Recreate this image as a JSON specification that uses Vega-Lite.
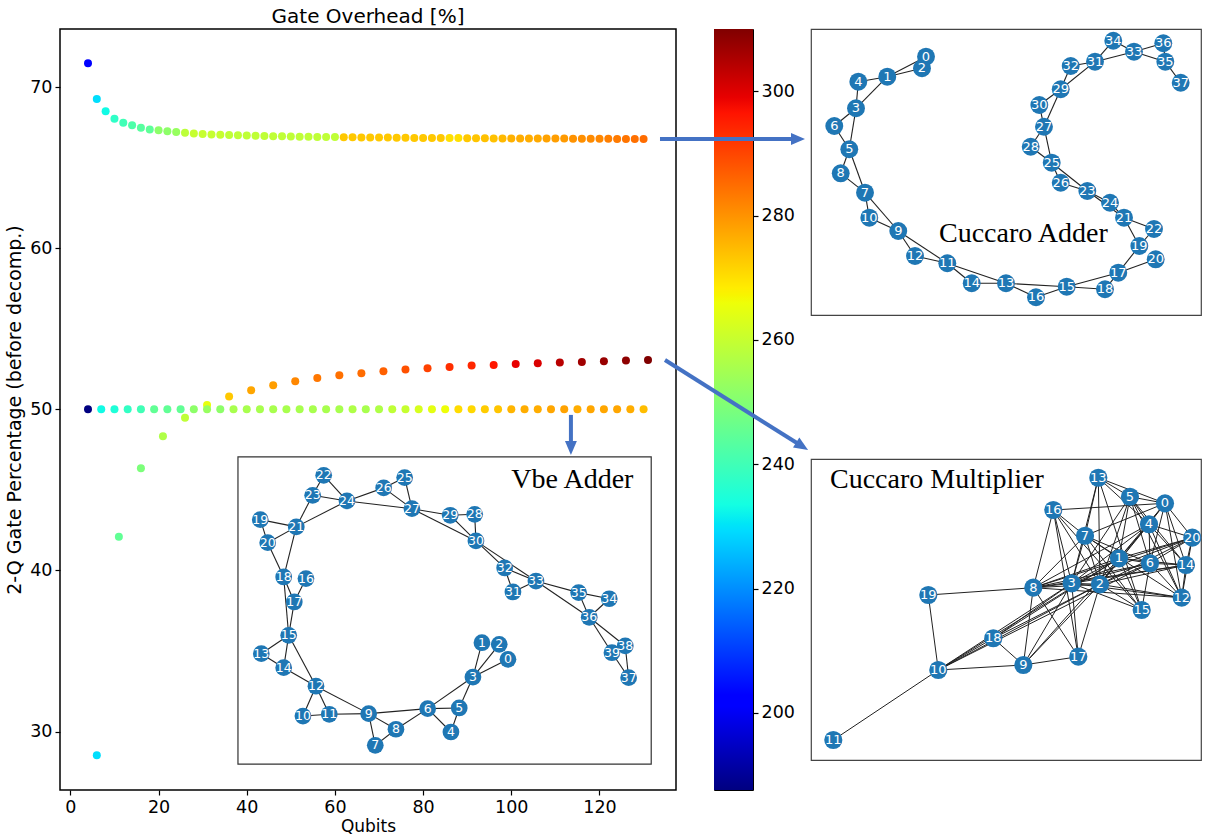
{
  "$schema": "https://vega.github.io/schema/vega-lite/v6.json",
  "padding": {"left": 4, "top": 6, "right": 5, "bottom": 2},
  "config": {
    "font": "DejaVu Sans",
    "view": {"stroke": null},
    "axis": {"domain": false, "grid": false, "ticks": true, "tickSize": 5, "tickWidth": 1.2, "tickColor": "black", "labelColor": "black", "labelFont": "DejaVu Sans", "labelFontSize": 17.5, "labelPadding": 3, "titleFont": "DejaVu Sans", "titleFontWeight": "normal", "titleColor": "black", "labelFlush": false, "labelOverlap": false}
  },
  "datasets": {
    "points": [
      {"series":"Cuccaro Adder","qubits":4,"pct":71.47,"overhead":201.5},
      {"series":"Cuccaro Adder","qubits":6,"pct":69.25,"overhead":229.5},
      {"series":"Cuccaro Adder","qubits":8,"pct":68.49,"overhead":233},
      {"series":"Cuccaro Adder","qubits":10,"pct":68.03,"overhead":237.5},
      {"series":"Cuccaro Adder","qubits":12,"pct":67.78,"overhead":240},
      {"series":"Cuccaro Adder","qubits":14,"pct":67.62,"overhead":242},
      {"series":"Cuccaro Adder","qubits":16,"pct":67.47,"overhead":243.5},
      {"series":"Cuccaro Adder","qubits":18,"pct":67.37,"overhead":244.5},
      {"series":"Cuccaro Adder","qubits":20,"pct":67.31,"overhead":251.5},
      {"series":"Cuccaro Adder","qubits":22,"pct":67.26,"overhead":251.5},
      {"series":"Cuccaro Adder","qubits":24,"pct":67.21,"overhead":253},
      {"series":"Cuccaro Adder","qubits":26,"pct":67.16,"overhead":258.5},
      {"series":"Cuccaro Adder","qubits":28,"pct":67.12,"overhead":260},
      {"series":"Cuccaro Adder","qubits":30,"pct":67.09,"overhead":260},
      {"series":"Cuccaro Adder","qubits":32,"pct":67.06,"overhead":260},
      {"series":"Cuccaro Adder","qubits":34,"pct":67.04,"overhead":260},
      {"series":"Cuccaro Adder","qubits":36,"pct":67.02,"overhead":259},
      {"series":"Cuccaro Adder","qubits":38,"pct":67.0,"overhead":259},
      {"series":"Cuccaro Adder","qubits":40,"pct":66.99,"overhead":259},
      {"series":"Cuccaro Adder","qubits":42,"pct":66.97,"overhead":259},
      {"series":"Cuccaro Adder","qubits":44,"pct":66.96,"overhead":259},
      {"series":"Cuccaro Adder","qubits":46,"pct":66.95,"overhead":259},
      {"series":"Cuccaro Adder","qubits":48,"pct":66.94,"overhead":259},
      {"series":"Cuccaro Adder","qubits":50,"pct":66.93,"overhead":259},
      {"series":"Cuccaro Adder","qubits":52,"pct":66.92,"overhead":259},
      {"series":"Cuccaro Adder","qubits":54,"pct":66.91,"overhead":259},
      {"series":"Cuccaro Adder","qubits":56,"pct":66.9,"overhead":259},
      {"series":"Cuccaro Adder","qubits":58,"pct":66.9,"overhead":259},
      {"series":"Cuccaro Adder","qubits":60,"pct":66.89,"overhead":259},
      {"series":"Cuccaro Adder","qubits":62,"pct":66.88,"overhead":273},
      {"series":"Cuccaro Adder","qubits":64,"pct":66.88,"overhead":273},
      {"series":"Cuccaro Adder","qubits":66,"pct":66.87,"overhead":273},
      {"series":"Cuccaro Adder","qubits":68,"pct":66.87,"overhead":273},
      {"series":"Cuccaro Adder","qubits":70,"pct":66.86,"overhead":273},
      {"series":"Cuccaro Adder","qubits":72,"pct":66.86,"overhead":273},
      {"series":"Cuccaro Adder","qubits":74,"pct":66.85,"overhead":273},
      {"series":"Cuccaro Adder","qubits":76,"pct":66.85,"overhead":273},
      {"series":"Cuccaro Adder","qubits":78,"pct":66.84,"overhead":273},
      {"series":"Cuccaro Adder","qubits":80,"pct":66.84,"overhead":273},
      {"series":"Cuccaro Adder","qubits":82,"pct":66.84,"overhead":273},
      {"series":"Cuccaro Adder","qubits":84,"pct":66.83,"overhead":273},
      {"series":"Cuccaro Adder","qubits":86,"pct":66.83,"overhead":270},
      {"series":"Cuccaro Adder","qubits":88,"pct":66.83,"overhead":270},
      {"series":"Cuccaro Adder","qubits":90,"pct":66.82,"overhead":273},
      {"series":"Cuccaro Adder","qubits":92,"pct":66.82,"overhead":273.5},
      {"series":"Cuccaro Adder","qubits":94,"pct":66.82,"overhead":274},
      {"series":"Cuccaro Adder","qubits":96,"pct":66.81,"overhead":274},
      {"series":"Cuccaro Adder","qubits":98,"pct":66.81,"overhead":275},
      {"series":"Cuccaro Adder","qubits":100,"pct":66.81,"overhead":276},
      {"series":"Cuccaro Adder","qubits":102,"pct":66.81,"overhead":276.5},
      {"series":"Cuccaro Adder","qubits":104,"pct":66.8,"overhead":276.5},
      {"series":"Cuccaro Adder","qubits":106,"pct":66.8,"overhead":277},
      {"series":"Cuccaro Adder","qubits":108,"pct":66.8,"overhead":278},
      {"series":"Cuccaro Adder","qubits":110,"pct":66.8,"overhead":278.5},
      {"series":"Cuccaro Adder","qubits":112,"pct":66.8,"overhead":279},
      {"series":"Cuccaro Adder","qubits":114,"pct":66.79,"overhead":280},
      {"series":"Cuccaro Adder","qubits":116,"pct":66.79,"overhead":280.5},
      {"series":"Cuccaro Adder","qubits":118,"pct":66.79,"overhead":281},
      {"series":"Cuccaro Adder","qubits":120,"pct":66.79,"overhead":281.5},
      {"series":"Cuccaro Adder","qubits":122,"pct":66.79,"overhead":282.5},
      {"series":"Cuccaro Adder","qubits":124,"pct":66.78,"overhead":283},
      {"series":"Cuccaro Adder","qubits":126,"pct":66.78,"overhead":284},
      {"series":"Cuccaro Adder","qubits":128,"pct":66.78,"overhead":284.5},
      {"series":"Cuccaro Adder","qubits":130,"pct":66.78,"overhead":285},
      {"series":"Cuccaro Multiplier","qubits":6,"pct":28.53,"overhead":229.5},
      {"series":"Cuccaro Multiplier","qubits":11,"pct":42.09,"overhead":245},
      {"series":"Cuccaro Multiplier","qubits":16,"pct":46.34,"overhead":249},
      {"series":"Cuccaro Multiplier","qubits":21,"pct":48.32,"overhead":256.5},
      {"series":"Cuccaro Multiplier","qubits":26,"pct":49.48,"overhead":259},
      {"series":"Cuccaro Multiplier","qubits":31,"pct":50.27,"overhead":265},
      {"series":"Cuccaro Multiplier","qubits":36,"pct":50.79,"overhead":273},
      {"series":"Cuccaro Multiplier","qubits":41,"pct":51.18,"overhead":277.5},
      {"series":"Cuccaro Multiplier","qubits":46,"pct":51.49,"overhead":278.5},
      {"series":"Cuccaro Multiplier","qubits":51,"pct":51.74,"overhead":281.5},
      {"series":"Cuccaro Multiplier","qubits":56,"pct":51.94,"overhead":283.5},
      {"series":"Cuccaro Multiplier","qubits":61,"pct":52.11,"overhead":284.5},
      {"series":"Cuccaro Multiplier","qubits":66,"pct":52.24,"overhead":285},
      {"series":"Cuccaro Multiplier","qubits":71,"pct":52.36,"overhead":286.5},
      {"series":"Cuccaro Multiplier","qubits":76,"pct":52.47,"overhead":288.5},
      {"series":"Cuccaro Multiplier","qubits":81,"pct":52.55,"overhead":290.5},
      {"series":"Cuccaro Multiplier","qubits":86,"pct":52.63,"overhead":293},
      {"series":"Cuccaro Multiplier","qubits":91,"pct":52.71,"overhead":294},
      {"series":"Cuccaro Multiplier","qubits":96,"pct":52.75,"overhead":296},
      {"series":"Cuccaro Multiplier","qubits":101,"pct":52.81,"overhead":299},
      {"series":"Cuccaro Multiplier","qubits":106,"pct":52.86,"overhead":300.5},
      {"series":"Cuccaro Multiplier","qubits":111,"pct":52.9,"overhead":304},
      {"series":"Cuccaro Multiplier","qubits":116,"pct":52.94,"overhead":306.5},
      {"series":"Cuccaro Multiplier","qubits":121,"pct":52.98,"overhead":307.5},
      {"series":"Cuccaro Multiplier","qubits":126,"pct":53.02,"overhead":308.5},
      {"series":"Cuccaro Multiplier","qubits":131,"pct":53.06,"overhead":310},
      {"series":"Vbe Adder","qubits":4,"pct":50,"overhead":187.6},
      {"series":"Vbe Adder","qubits":7,"pct":50,"overhead":233},
      {"series":"Vbe Adder","qubits":10,"pct":50,"overhead":235},
      {"series":"Vbe Adder","qubits":13,"pct":50,"overhead":238},
      {"series":"Vbe Adder","qubits":16,"pct":50,"overhead":240},
      {"series":"Vbe Adder","qubits":19,"pct":50,"overhead":245},
      {"series":"Vbe Adder","qubits":22,"pct":50,"overhead":245},
      {"series":"Vbe Adder","qubits":25,"pct":50,"overhead":245},
      {"series":"Vbe Adder","qubits":28,"pct":50,"overhead":251.5},
      {"series":"Vbe Adder","qubits":31,"pct":50,"overhead":253},
      {"series":"Vbe Adder","qubits":34,"pct":50,"overhead":251.5},
      {"series":"Vbe Adder","qubits":37,"pct":50,"overhead":255.5},
      {"series":"Vbe Adder","qubits":40,"pct":50,"overhead":255.5},
      {"series":"Vbe Adder","qubits":43,"pct":50,"overhead":255.5},
      {"series":"Vbe Adder","qubits":46,"pct":50,"overhead":255.5},
      {"series":"Vbe Adder","qubits":49,"pct":50,"overhead":255.5},
      {"series":"Vbe Adder","qubits":52,"pct":50,"overhead":255.5},
      {"series":"Vbe Adder","qubits":55,"pct":50,"overhead":255.5},
      {"series":"Vbe Adder","qubits":58,"pct":50,"overhead":255.5},
      {"series":"Vbe Adder","qubits":61,"pct":50,"overhead":255.5},
      {"series":"Vbe Adder","qubits":64,"pct":50,"overhead":256.5},
      {"series":"Vbe Adder","qubits":67,"pct":50,"overhead":255.5},
      {"series":"Vbe Adder","qubits":70,"pct":50,"overhead":256.5},
      {"series":"Vbe Adder","qubits":73,"pct":50,"overhead":259},
      {"series":"Vbe Adder","qubits":76,"pct":50,"overhead":260},
      {"series":"Vbe Adder","qubits":79,"pct":50,"overhead":262.5},
      {"series":"Vbe Adder","qubits":82,"pct":50,"overhead":264.5},
      {"series":"Vbe Adder","qubits":85,"pct":50,"overhead":266},
      {"series":"Vbe Adder","qubits":88,"pct":50,"overhead":270.5},
      {"series":"Vbe Adder","qubits":91,"pct":50,"overhead":271},
      {"series":"Vbe Adder","qubits":94,"pct":50,"overhead":272.5},
      {"series":"Vbe Adder","qubits":97,"pct":50,"overhead":273.5},
      {"series":"Vbe Adder","qubits":100,"pct":50,"overhead":275.5},
      {"series":"Vbe Adder","qubits":103,"pct":50,"overhead":276.5},
      {"series":"Vbe Adder","qubits":106,"pct":50,"overhead":276.5},
      {"series":"Vbe Adder","qubits":109,"pct":50,"overhead":277.5},
      {"series":"Vbe Adder","qubits":112,"pct":50,"overhead":278},
      {"series":"Vbe Adder","qubits":115,"pct":50,"overhead":276.5},
      {"series":"Vbe Adder","qubits":118,"pct":50,"overhead":277.5},
      {"series":"Vbe Adder","qubits":121,"pct":50,"overhead":277.5},
      {"series":"Vbe Adder","qubits":124,"pct":50,"overhead":277.5},
      {"series":"Vbe Adder","qubits":127,"pct":50,"overhead":276.5},
      {"series":"Vbe Adder","qubits":130,"pct":50,"overhead":274.5}
    ],
    "vbeNodes": [
      {"id":0,"gx":99.24,"gy":34.48},{"id":1,"gx":93.34,"gy":35.51},{"id":2,"gx":97.26,"gy":35.41},{"id":3,"gx":91.3,"gy":33.38},
      {"id":4,"gx":86.31,"gy":29.97},{"id":5,"gx":88.19,"gy":31.46},{"id":6,"gx":81.03,"gy":31.42},{"id":7,"gx":69.15,"gy":29.14},
      {"id":8,"gx":73.84,"gy":30.14},{"id":9,"gx":67.65,"gy":31.11},{"id":10,"gx":52.75,"gy":30.96},{"id":11,"gx":58.72,"gy":31.07},
      {"id":12,"gx":55.7,"gy":32.81},{"id":13,"gx":43.3,"gy":34.83},{"id":14,"gx":48.38,"gy":33.96},{"id":15,"gx":49.51,"gy":35.97},
      {"id":16,"gx":53.43,"gy":39.49},{"id":17,"gx":50.78,"gy":38.04},{"id":18,"gx":48.38,"gy":39.59},{"id":19,"gx":43.07,"gy":43.15},
      {"id":20,"gx":44.75,"gy":41.72},{"id":21,"gx":51.23,"gy":42.7},{"id":22,"gx":57.45,"gy":45.9},{"id":23,"gx":54.95,"gy":44.66},
      {"id":24,"gx":62.73,"gy":44.31},{"id":25,"gx":75.81,"gy":45.76},{"id":26,"gx":71.05,"gy":45.12},{"id":27,"gx":77.47,"gy":43.83},
      {"id":28,"gx":91.69,"gy":43.48},{"id":29,"gx":86.15,"gy":43.42},{"id":30,"gx":91.98,"gy":41.83},{"id":31,"gx":100.37,"gy":38.66},
      {"id":32,"gx":98.49,"gy":40.15},{"id":33,"gx":105.59,"gy":39.34},{"id":34,"gx":122.21,"gy":38.24},{"id":35,"gx":115.27,"gy":38.62},
      {"id":36,"gx":117.67,"gy":37.09},{"id":37,"gx":126.61,"gy":33.34},{"id":38,"gx":125.84,"gy":35.31},{"id":39,"gx":122.82,"gy":34.89}
    ],
    "vbeEdges": [
      {"s":22,"t":24},{"s":22,"t":23},{"s":23,"t":24},{"s":23,"t":21},{"s":24,"t":21},{"s":24,"t":26},{"s":24,"t":27},{"s":26,"t":27},
      {"s":25,"t":27},{"s":25,"t":26},{"s":27,"t":29},{"s":27,"t":30},{"s":29,"t":28},{"s":28,"t":30},{"s":29,"t":30},{"s":30,"t":32},
      {"s":30,"t":33},{"s":32,"t":33},{"s":32,"t":31},{"s":31,"t":33},{"s":33,"t":35},{"s":33,"t":36},{"s":35,"t":34},{"s":35,"t":36},
      {"s":34,"t":36},{"s":36,"t":39},{"s":36,"t":38},{"s":38,"t":37},{"s":39,"t":37},{"s":19,"t":21},{"s":19,"t":20},{"s":20,"t":21},
      {"s":20,"t":18},{"s":21,"t":18},{"s":16,"t":17},{"s":18,"t":17},{"s":18,"t":15},{"s":17,"t":15},{"s":15,"t":13},{"s":15,"t":14},
      {"s":13,"t":14},{"s":15,"t":12},{"s":14,"t":12},{"s":12,"t":10},{"s":12,"t":11},{"s":12,"t":9},{"s":11,"t":9},{"s":10,"t":11},
      {"s":9,"t":8},{"s":9,"t":7},{"s":7,"t":8},{"s":9,"t":6},{"s":8,"t":6},{"s":6,"t":5},{"s":6,"t":4},{"s":6,"t":3},
      {"s":5,"t":3},{"s":5,"t":4},{"s":3,"t":1},{"s":3,"t":2},{"s":3,"t":0}
    ],
    "adderNodes": [
      {"id":0,"px":29.49,"py":66.23},{"id":1,"px":19.56,"py":61.1},{"id":2,"px":28.46,"py":63.26},{"id":3,"px":11.54,"py":53.0},
      {"id":4,"px":12.13,"py":59.82},{"id":5,"px":9.82,"py":42.49},{"id":6,"px":5.97,"py":48.46},{"id":7,"px":13.85,"py":31.36},
      {"id":8,"px":7.62,"py":36.33},{"id":9,"px":22.38,"py":21.54},{"id":10,"px":14.95,"py":24.95},{"id":11,"px":34.95,"py":13.26},
      {"id":12,"px":26.67,"py":15.13},{"id":13,"px":50.0,"py":8.13},{"id":14,"px":41.21,"py":8.13},{"id":15,"px":65.56,"py":7.26},
      {"id":16,"px":57.69,"py":4.54},{"id":17,"px":78.79,"py":10.85},{"id":18,"px":75.38,"py":6.59},{"id":19,"px":84.18,"py":17.69},
      {"id":20,"px":88.38,"py":14.28},{"id":21,"px":80.26,"py":24.95},{"id":22,"px":87.95,"py":22.05},{"id":23,"px":70.85,"py":31.79},
      {"id":24,"px":76.67,"py":28.79},{"id":25,"px":61.72,"py":39.05},{"id":26,"px":64.03,"py":33.92},{"id":27,"px":59.74,"py":48.28},
      {"id":28,"px":56.33,"py":43.15},{"id":29,"px":64.03,"py":57.87},{"id":30,"px":58.54,"py":53.85},{"id":31,"px":72.82,"py":64.95},
      {"id":32,"px":66.59,"py":63.85},{"id":33,"px":82.82,"py":67.51},{"id":34,"px":77.51,"py":70.33},{"id":35,"px":90.85,"py":64.95},
      {"id":36,"px":90.33,"py":69.67},{"id":37,"px":94.79,"py":59.56}
    ],
    "adderEdges": [
      {"s":0,"t":1},{"s":0,"t":2},{"s":1,"t":2},{"s":1,"t":4},{"s":1,"t":3},{"s":3,"t":4},{"s":3,"t":6},{"s":3,"t":5},
      {"s":5,"t":6},{"s":5,"t":8},{"s":5,"t":7},{"s":7,"t":8},{"s":7,"t":10},{"s":7,"t":9},{"s":9,"t":10},{"s":9,"t":12},
      {"s":9,"t":11},{"s":11,"t":12},{"s":11,"t":14},{"s":11,"t":13},{"s":13,"t":14},{"s":13,"t":16},{"s":13,"t":15},{"s":15,"t":16},
      {"s":15,"t":18},{"s":15,"t":17},{"s":17,"t":18},{"s":17,"t":20},{"s":17,"t":19},{"s":19,"t":22},{"s":19,"t":21},{"s":21,"t":22},
      {"s":21,"t":24},{"s":21,"t":23},{"s":23,"t":24},{"s":23,"t":26},{"s":23,"t":25},{"s":25,"t":26},{"s":25,"t":28},{"s":25,"t":27},
      {"s":27,"t":28},{"s":27,"t":30},{"s":27,"t":29},{"s":29,"t":30},{"s":29,"t":32},{"s":29,"t":31},{"s":31,"t":32},{"s":31,"t":34},
      {"s":31,"t":33},{"s":33,"t":34},{"s":33,"t":36},{"s":33,"t":35},{"s":35,"t":36},{"s":35,"t":37}
    ],
    "multNodes": [
      {"id":0,"px":90.77,"py":65.82},{"id":1,"px":78.97,"py":51.72},{"id":2,"px":74.1,"py":45.05},{"id":3,"px":66.85,"py":45.31},
      {"id":4,"px":86.67,"py":60.44},{"id":5,"px":81.79,"py":67.51},{"id":6,"px":86.92,"py":50.44},{"id":7,"px":70.26,"py":57.51},
      {"id":8,"px":57.0,"py":44.18},{"id":9,"px":54.44,"py":24.36},{"id":10,"px":32.64,"py":23.08},{"id":11,"px":5.72,"py":5.13},
      {"id":12,"px":95.05,"py":41.62},{"id":13,"px":73.67,"py":72.38},{"id":14,"px":96.15,"py":50.0},{"id":15,"px":84.79,"py":38.46},
      {"id":16,"px":62.13,"py":64.1},{"id":17,"px":68.54,"py":26.49},{"id":18,"px":46.74,"py":31.21},{"id":19,"px":30.08,"py":42.31},
      {"id":20,"px":97.77,"py":57.0}
    ],
    "multEdges": [
      {"s":10,"t":11},{"s":10,"t":19},{"s":19,"t":8},{"s":10,"t":9},{"s":9,"t":17},{"s":10,"t":18},{"s":10,"t":3},{"s":10,"t":2},
      {"s":10,"t":1},{"s":10,"t":6},{"s":18,"t":9},{"s":18,"t":3},{"s":18,"t":2},{"s":18,"t":1},{"s":9,"t":8},{"s":9,"t":3},
      {"s":9,"t":2},{"s":9,"t":1},{"s":17,"t":8},{"s":17,"t":3},{"s":17,"t":2},{"s":17,"t":16},{"s":8,"t":16},{"s":8,"t":3},
      {"s":8,"t":7},{"s":8,"t":1},{"s":8,"t":4},{"s":8,"t":6},{"s":8,"t":14},{"s":8,"t":20},{"s":8,"t":2},{"s":8,"t":12},
      {"s":16,"t":0},{"s":16,"t":7},{"s":16,"t":3},{"s":16,"t":2},{"s":16,"t":15},{"s":13,"t":5},{"s":13,"t":0},{"s":13,"t":7},
      {"s":13,"t":3},{"s":13,"t":2},{"s":13,"t":15},{"s":13,"t":4},{"s":5,"t":0},{"s":5,"t":4},{"s":5,"t":1},{"s":5,"t":3},
      {"s":5,"t":2},{"s":5,"t":6},{"s":5,"t":14},{"s":5,"t":12},{"s":0,"t":4},{"s":0,"t":20},{"s":0,"t":14},{"s":0,"t":12},
      {"s":0,"t":6},{"s":0,"t":1},{"s":0,"t":7},{"s":0,"t":2},{"s":7,"t":1},{"s":7,"t":6},{"s":7,"t":12},{"s":7,"t":15},
      {"s":7,"t":3},{"s":7,"t":2},{"s":4,"t":20},{"s":4,"t":1},{"s":4,"t":3},{"s":4,"t":2},{"s":4,"t":14},{"s":4,"t":6},
      {"s":4,"t":12},{"s":20,"t":14},{"s":20,"t":6},{"s":20,"t":1},{"s":20,"t":3},{"s":20,"t":2},{"s":20,"t":12},{"s":1,"t":6},
      {"s":1,"t":3},{"s":1,"t":2},{"s":1,"t":14},{"s":1,"t":15},{"s":6,"t":14},{"s":6,"t":12},{"s":6,"t":15},{"s":6,"t":3},
      {"s":6,"t":2},{"s":14,"t":12},{"s":14,"t":2},{"s":14,"t":3},{"s":3,"t":2},{"s":3,"t":12},{"s":3,"t":15},{"s":2,"t":12},
      {"s":2,"t":15}
    ]
  },
  "bounds": "flush",
  "spacing": 38,
  "hconcat": [
    {
      "width": 616,
      "height": 761,
      "view": {"stroke": "black", "strokeWidth": 1.5},
      "title": {"text": "Gate Overhead [%]", "fontSize": 20, "fontWeight": "normal", "font": "DejaVu Sans", "color": "black", "offset": 2},
      "layer": [
        {
          "data": {"name": "points"},
          "mark": {"type": "circle", "size": 64, "opacity": 1},
          "encoding": {
            "x": {"field": "qubits", "type": "quantitative", "title": "Qubits", "scale": {"domain": [-2.35, 137.35], "nice": false, "zero": false}, "axis": {"values": [0, 20, 40, 60, 80, 100, 120], "titleFontSize": 17, "titlePadding": 3}},
            "y": {"field": "pct", "type": "quantitative", "title": "2-Q Gate Percentage (before decomp.)", "scale": {"domain": [26.37, 73.6], "nice": false, "zero": false}, "axis": {"values": [30, 40, 50, 60, 70], "titleFontSize": 19, "titlePadding": 5}},
            "color": {"field": "overhead", "type": "quantitative", "legend": null, "scale": {"domain": [187.6, 201.06, 202.9, 229.22, 230.44, 233.5, 265.94, 267.16, 268.38, 296.54, 298.98, 310], "range": ["#000080", "#0000ff", "#0000ff", "#00dbff", "#00e6f7", "#14ffe2", "#eeff08", "#f7f500", "#ffec00", "#ff1300", "#e80000", "#800000"], "interpolate": "rgb"}}
          }
        },
        {
          "data": {"values": [{"gx": 38.01, "gx2": 131.73, "gy": 27.97, "gy2": 47.04}]},
          "mark": {"type": "rect", "fill": "white", "stroke": "#333333", "strokeWidth": 1.2},
          "encoding": {
            "x": {"field": "gx", "type": "quantitative", "title": "Qubits", "scale": {"domain": [-2.35, 137.35], "nice": false, "zero": false}},
            "x2": {"field": "gx2"},
            "y": {"field": "gy", "type": "quantitative", "title": "2-Q Gate Percentage (before decomp.)", "scale": {"domain": [26.37, 73.6], "nice": false, "zero": false}},
            "y2": {"field": "gy2"}
          }
        },
        {
          "data": {"name": "vbeEdges"},
          "transform": [
            {"lookup": "s", "from": {"data": {"name": "vbeNodes"}, "key": "id", "fields": ["gx", "gy"]}, "as": ["gx", "gy"]},
            {"lookup": "t", "from": {"data": {"name": "vbeNodes"}, "key": "id", "fields": ["gx", "gy"]}, "as": ["gx2", "gy2"]}
          ],
          "mark": {"type": "rule", "color": "#222222", "strokeWidth": 1.1},
          "encoding": {
            "x": {"field": "gx", "type": "quantitative", "title": "Qubits", "scale": {"domain": [-2.35, 137.35], "nice": false, "zero": false}},
            "x2": {"field": "gx2"},
            "y": {"field": "gy", "type": "quantitative", "title": "2-Q Gate Percentage (before decomp.)", "scale": {"domain": [26.37, 73.6], "nice": false, "zero": false}},
            "y2": {"field": "gy2"}
          }
        },
        {
          "data": {"name": "vbeNodes"},
          "mark": {"type": "circle", "size": 280, "color": "#1f77b4", "opacity": 1},
          "encoding": {
            "x": {"field": "gx", "type": "quantitative", "title": "Qubits", "scale": {"domain": [-2.35, 137.35], "nice": false, "zero": false}},
            "y": {"field": "gy", "type": "quantitative", "title": "2-Q Gate Percentage (before decomp.)", "scale": {"domain": [26.37, 73.6], "nice": false, "zero": false}}
          }
        },
        {
          "data": {"name": "vbeNodes"},
          "mark": {"type": "text", "color": "white", "fontSize": 12.5, "font": "DejaVu Sans", "align": "center", "baseline": "middle"},
          "encoding": {
            "x": {"field": "gx", "type": "quantitative", "title": "Qubits", "scale": {"domain": [-2.35, 137.35], "nice": false, "zero": false}},
            "y": {"field": "gy", "type": "quantitative", "title": "2-Q Gate Percentage (before decomp.)", "scale": {"domain": [26.37, 73.6], "nice": false, "zero": false}},
            "text": {"field": "id", "type": "nominal"}
          }
        },
        {
          "data": {"values": [{"gx": 100.0, "gy": 45.12, "label": "Vbe Adder"}]},
          "mark": {"type": "text", "color": "black", "fontSize": 28, "font": "Liberation Serif", "align": "left", "baseline": "alphabetic"},
          "encoding": {
            "x": {"field": "gx", "type": "quantitative", "title": "Qubits", "scale": {"domain": [-2.35, 137.35], "nice": false, "zero": false}},
            "y": {"field": "gy", "type": "quantitative", "title": "2-Q Gate Percentage (before decomp.)", "scale": {"domain": [26.37, 73.6], "nice": false, "zero": false}},
            "text": {"field": "label", "type": "nominal"}
          }
        },
        {
          "data": {"values": [{"gx": 113.52, "gy": 49.65, "gx2": 113.52, "gy2": 47.6}]},
          "mark": {"type": "rule", "color": "#4472c4", "strokeWidth": 4},
          "encoding": {
            "x": {"field": "gx", "type": "quantitative", "title": "Qubits", "scale": {"domain": [-2.35, 137.35], "nice": false, "zero": false}},
            "x2": {"field": "gx2"},
            "y": {"field": "gy", "type": "quantitative", "title": "2-Q Gate Percentage (before decomp.)", "scale": {"domain": [26.37, 73.6], "nice": false, "zero": false}},
            "y2": {"field": "gy2"}
          }
        },
        {
          "data": {"values": [{"gx": 113.52, "gy": 47.6}]},
          "mark": {"type": "point", "shape": "M1,0L-1,-0.85L-1,0.85Z", "size": 196, "filled": true, "color": "#4472c4", "opacity": 1, "angle": 90},
          "encoding": {
            "x": {"field": "gx", "type": "quantitative", "title": "Qubits", "scale": {"domain": [-2.35, 137.35], "nice": false, "zero": false}},
            "y": {"field": "gy", "type": "quantitative", "title": "2-Q Gate Percentage (before decomp.)", "scale": {"domain": [26.37, 73.6], "nice": false, "zero": false}}
          }
        }
      ]
    },
    {
      "bounds": "flush",
      "spacing": 58,
      "hconcat": [
        {
          "width": 39,
          "height": 761,
          "view": {"stroke": "black", "strokeWidth": 1},
          "data": {"values": [{"lo": 187.6, "hi": 310}]},
          "mark": {"type": "rect", "color": {"gradient": "linear", "x1": 0, "y1": 1, "x2": 0, "y2": 0, "stops": [
            {"offset": 0, "color": "#000080"}, {"offset": 0.11, "color": "#0000ff"}, {"offset": 0.125, "color": "#0000ff"},
            {"offset": 0.34, "color": "#00dbff"}, {"offset": 0.35, "color": "#00e6f7"}, {"offset": 0.375, "color": "#14ffe2"},
            {"offset": 0.64, "color": "#eeff08"}, {"offset": 0.65, "color": "#f7f500"}, {"offset": 0.66, "color": "#ffec00"},
            {"offset": 0.89, "color": "#ff1300"}, {"offset": 0.91, "color": "#e80000"}, {"offset": 1, "color": "#800000"}]}},
          "encoding": {
            "x": {"datum": 0, "type": "quantitative", "scale": {"domain": [0, 1], "nice": false, "zero": false}, "axis": null},
            "x2": {"datum": 1},
            "y": {"field": "lo", "type": "quantitative", "scale": {"domain": [187.6, 310], "nice": false, "zero": false}, "axis": {"orient": "right", "values": [200, 220, 240, 260, 280, 300], "title": null}},
            "y2": {"field": "hi"}
          }
        },
        {
          "bounds": "flush",
          "spacing": 144,
          "vconcat": [
            {
              "width": 390,
              "height": 286,
              "view": {"stroke": "#444444", "strokeWidth": 1.2},
              "layer": [
                {
                  "data": {"values": [{"px": -38.72, "py": 45.13, "px2": -3.33, "py2": 45.13}]},
                  "mark": {"type": "rule", "color": "#4472c4", "strokeWidth": 4},
                  "encoding": {
                    "x": {"field": "px", "type": "quantitative", "scale": {"domain": [0, 100], "nice": false, "zero": false}, "axis": null},
                    "x2": {"field": "px2"},
                    "y": {"field": "py", "type": "quantitative", "scale": {"domain": [0, 73.33], "nice": false, "zero": false}, "axis": null},
                    "y2": {"field": "py2"}
                  }
                },
                {
                  "data": {"values": [{"px": -3.33, "py": 45.13}]},
                  "mark": {"type": "point", "shape": "M1,0L-1,-0.85L-1,0.85Z", "size": 196, "filled": true, "color": "#4472c4", "opacity": 1, "angle": 0},
                  "encoding": {
                    "x": {"field": "px", "type": "quantitative", "scale": {"domain": [0, 100], "nice": false, "zero": false}, "axis": null},
                    "y": {"field": "py", "type": "quantitative", "scale": {"domain": [0, 73.33], "nice": false, "zero": false}, "axis": null}
                  }
                },
                {
                  "data": {"name": "adderEdges"},
                  "transform": [
                    {"lookup": "s", "from": {"data": {"name": "adderNodes"}, "key": "id", "fields": ["px", "py"]}, "as": ["px", "py"]},
                    {"lookup": "t", "from": {"data": {"name": "adderNodes"}, "key": "id", "fields": ["px", "py"]}, "as": ["px2", "py2"]}
                  ],
                  "mark": {"type": "rule", "color": "#222222", "strokeWidth": 1.1},
                  "encoding": {
                    "x": {"field": "px", "type": "quantitative", "scale": {"domain": [0, 100], "nice": false, "zero": false}, "axis": null},
                    "x2": {"field": "px2"},
                    "y": {"field": "py", "type": "quantitative", "scale": {"domain": [0, 73.33], "nice": false, "zero": false}, "axis": null},
                    "y2": {"field": "py2"}
                  }
                },
                {
                  "data": {"name": "adderNodes"},
                  "mark": {"type": "circle", "size": 320, "color": "#1f77b4", "opacity": 1},
                  "encoding": {
                    "x": {"field": "px", "type": "quantitative", "scale": {"domain": [0, 100], "nice": false, "zero": false}, "axis": null},
                    "y": {"field": "py", "type": "quantitative", "scale": {"domain": [0, 73.33], "nice": false, "zero": false}, "axis": null}
                  }
                },
                {
                  "data": {"name": "adderNodes"},
                  "mark": {"type": "text", "color": "white", "fontSize": 13, "font": "DejaVu Sans", "align": "center", "baseline": "middle"},
                  "encoding": {
                    "x": {"field": "px", "type": "quantitative", "scale": {"domain": [0, 100], "nice": false, "zero": false}, "axis": null},
                    "y": {"field": "py", "type": "quantitative", "scale": {"domain": [0, 73.33], "nice": false, "zero": false}, "axis": null},
                    "text": {"field": "id", "type": "nominal"}
                  }
                },
                {
                  "data": {"values": [{"px": 32.82, "py": 18.79, "label": "Cuccaro Adder"}]},
                  "mark": {"type": "text", "color": "black", "fontSize": 28, "font": "Liberation Serif", "align": "left", "baseline": "alphabetic"},
                  "encoding": {
                    "x": {"field": "px", "type": "quantitative", "scale": {"domain": [0, 100], "nice": false, "zero": false}, "axis": null},
                    "y": {"field": "py", "type": "quantitative", "scale": {"domain": [0, 73.33], "nice": false, "zero": false}, "axis": null},
                    "text": {"field": "label", "type": "nominal"}
                  }
                }
              ]
            },
            {
              "width": 390,
              "height": 301,
              "view": {"stroke": "#444444", "strokeWidth": 1.2},
              "layer": [
                {
                  "data": {"values": [{"px": -37.44, "py": 102.56, "px2": -2.28, "py2": 80.44}]},
                  "mark": {"type": "rule", "color": "#4472c4", "strokeWidth": 4},
                  "encoding": {
                    "x": {"field": "px", "type": "quantitative", "scale": {"domain": [0, 100], "nice": false, "zero": false}, "axis": null},
                    "x2": {"field": "px2"},
                    "y": {"field": "py", "type": "quantitative", "scale": {"domain": [0, 77.18], "nice": false, "zero": false}, "axis": null},
                    "y2": {"field": "py2"}
                  }
                },
                {
                  "data": {"values": [{"px": -2.28, "py": 80.44}]},
                  "mark": {"type": "point", "shape": "M1,0L-1,-0.85L-1,0.85Z", "size": 196, "filled": true, "color": "#4472c4", "opacity": 1, "angle": 32},
                  "encoding": {
                    "x": {"field": "px", "type": "quantitative", "scale": {"domain": [0, 100], "nice": false, "zero": false}, "axis": null},
                    "y": {"field": "py", "type": "quantitative", "scale": {"domain": [0, 77.18], "nice": false, "zero": false}, "axis": null}
                  }
                },
                {
                  "data": {"name": "multEdges"},
                  "transform": [
                    {"lookup": "s", "from": {"data": {"name": "multNodes"}, "key": "id", "fields": ["px", "py"]}, "as": ["px", "py"]},
                    {"lookup": "t", "from": {"data": {"name": "multNodes"}, "key": "id", "fields": ["px", "py"]}, "as": ["px2", "py2"]}
                  ],
                  "mark": {"type": "rule", "color": "#222222", "strokeWidth": 1.0},
                  "encoding": {
                    "x": {"field": "px", "type": "quantitative", "scale": {"domain": [0, 100], "nice": false, "zero": false}, "axis": null},
                    "x2": {"field": "px2"},
                    "y": {"field": "py", "type": "quantitative", "scale": {"domain": [0, 77.18], "nice": false, "zero": false}, "axis": null},
                    "y2": {"field": "py2"}
                  }
                },
                {
                  "data": {"name": "multNodes"},
                  "mark": {"type": "circle", "size": 330, "color": "#1f77b4", "opacity": 1},
                  "encoding": {
                    "x": {"field": "px", "type": "quantitative", "scale": {"domain": [0, 100], "nice": false, "zero": false}, "axis": null},
                    "y": {"field": "py", "type": "quantitative", "scale": {"domain": [0, 77.18], "nice": false, "zero": false}, "axis": null}
                  }
                },
                {
                  "data": {"name": "multNodes"},
                  "mark": {"type": "text", "color": "white", "fontSize": 13, "font": "DejaVu Sans", "align": "center", "baseline": "middle"},
                  "encoding": {
                    "x": {"field": "px", "type": "quantitative", "scale": {"domain": [0, 100], "nice": false, "zero": false}, "axis": null},
                    "y": {"field": "py", "type": "quantitative", "scale": {"domain": [0, 77.18], "nice": false, "zero": false}, "axis": null},
                    "text": {"field": "id", "type": "nominal"}
                  }
                },
                {
                  "data": {"values": [{"px": 4.87, "py": 69.67, "label": "Cuccaro Multiplier"}]},
                  "mark": {"type": "text", "color": "black", "fontSize": 28, "font": "Liberation Serif", "align": "left", "baseline": "alphabetic"},
                  "encoding": {
                    "x": {"field": "px", "type": "quantitative", "scale": {"domain": [0, 100], "nice": false, "zero": false}, "axis": null},
                    "y": {"field": "py", "type": "quantitative", "scale": {"domain": [0, 77.18], "nice": false, "zero": false}, "axis": null},
                    "text": {"field": "label", "type": "nominal"}
                  }
                }
              ]
            }
          ]
        }
      ]
    }
  ]
}
